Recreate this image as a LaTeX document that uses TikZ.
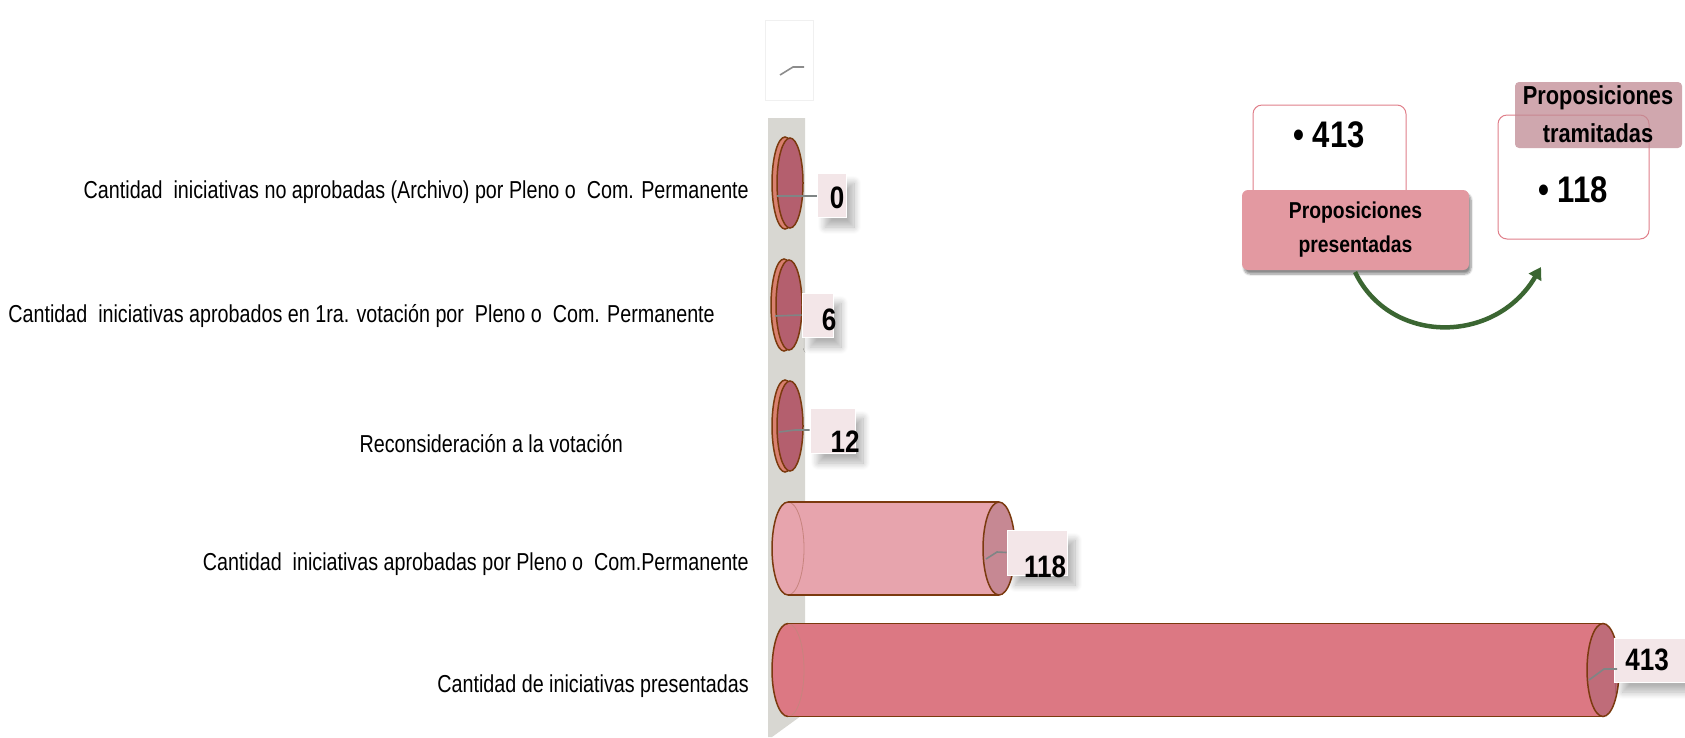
\documentclass[tikz,border=0pt]{standalone}
\usepackage{fontspec}
\setmainfont{Liberation Sans}
\newfontfamily\narrowfont[FakeStretch=0.805]{Liberation Sans}
\newfontfamily\valfont[FakeStretch=0.84]{Liberation Sans}
\usetikzlibrary{shadows.blur,arrows.meta,calc}
\definecolor{wallgray}{HTML}{D8D7D2}
\definecolor{edgebrown}{HTML}{7B3A0F}
\definecolor{bodyA}{HTML}{E7A4AD}
\definecolor{capA}{HTML}{C68893}
\definecolor{bodyB}{HTML}{DC7883}
\definecolor{capB}{HTML}{BF6C79}
\definecolor{discfill}{HTML}{B45F6E}
\definecolor{discback}{HTML}{D9806F}
\definecolor{lblfill}{HTML}{F3E6E8}
\definecolor{pinkline}{HTML}{E07F8A}
\definecolor{pinklabel}{HTML}{E399A1}
\definecolor{tramfill}{HTML}{C08A93}
\definecolor{arrowgreen}{HTML}{3B6632}
\definecolor{leader}{HTML}{7F8585}
\newcommand{\cylbar}[5]{%
  \fill[#4] (#1,#3) ellipse [x radius=16pt, y radius=46.5pt];
  \fill[#4] (#1,#3-46.5) rectangle (#2,#3+46.5);
  \fill[#5] (#2,#3) ellipse [x radius=16pt, y radius=46.5pt];
  \draw[faintedge] (#1,#3-46.5) arc [start angle=90, end angle=-90, x radius=16pt, y radius=46.5pt];
  \draw[edgeline] (#1,#3-46.5) -- (#2,#3-46.5);
  \draw[edgeline] (#1,#3+46.5) -- (#2,#3+46.5);
  \draw[edgeline] (#1,#3-46.5) arc [start angle=90, end angle=270, x radius=16pt, y radius=46.5pt];
  \draw[edgeline] (#2,#3) ellipse [x radius=16pt, y radius=46.5pt];
}
\newcommand{\discbar}[2]{%
  \draw[edgeline, fill=discback] (#1-3,#2) ellipse [x radius=13pt, y radius=46pt];
  \draw[edgeline, fill=discfill] (#1+2,#2) ellipse [x radius=13pt, y radius=45pt];
}
\tikzset{
  edgeline/.style={draw=edgebrown, line width=1.5pt},
  faintedge/.style={draw=edgebrown!30!bodyA, line width=0.8pt},
  catlabel/.style={anchor=east, inner sep=0pt, font=\narrowfont\fontsize{24.5}{28}\selectfont},
  vallabel/.style={inner sep=0pt, font=\valfont\bfseries\fontsize{31}{36}\selectfont},
  valbox/.style={fill=lblfill, draw=white, line width=1pt, blur shadow={shadow xshift=8pt, shadow yshift=-10pt, shadow blur radius=7pt, shadow blur steps=12, shadow opacity=30}},
  leaderline/.style={draw=leader, line width=1.6pt},
  bigval/.style={inner sep=0pt, font=\valfont\bfseries\fontsize{37}{42}\selectfont},
  headtext/.style={align=center, inner sep=0pt, font=\valfont\bfseries\fontsize{23}{34}\selectfont},
  outlinebox/.style={draw=pinkline, line width=1pt, rounded corners=9pt, fill=white},
}
\begin{document}
\begin{tikzpicture}[x=1pt,y=-1pt]
\useasboundingbox (0,0) rectangle (1685,737);
% faint top element
\draw[gray!12, line width=0.8pt] (765,20) rectangle (813,100);
\draw[gray!90, line width=1.6pt] (780,75) -- (793,67) -- (804,67);
% wall
\fill[wallgray] (768,118) -- (805,118) -- (805,713) -- (772,737) -- (768,737) -- cycle;
% discs
\discbar{788}{183}
\discbar{787}{305}
\discbar{788}{426}
% cylinders
\cylbar{788}{999}{548.5}{bodyA}{capA}
\cylbar{788}{1603}{670}{bodyB}{capB}
% value boxes
\node[valbox, minimum width=29pt, minimum height=44pt, inner sep=0pt] (b0) at (831.5,195) {};
\node[valbox, minimum width=31pt, minimum height=44pt, inner sep=0pt] (b6) at (817.5,315) {};
\node[valbox, minimum width=45pt, minimum height=45pt, inner sep=0pt] (b12) at (832.5,430.5) {};
\node[valbox, minimum width=60pt, minimum height=45pt, inner sep=0pt] (b118) at (1037,552.5) {};
\node[valbox, minimum width=75pt, minimum height=44pt, inner sep=0pt] (b413) at (1652,660) {};
% leaders
\coordinate (d0) at (777,196);
\coordinate (d6) at (775,316);
\coordinate (d12) at (779,432);
\coordinate (d118) at (986,559);
\coordinate (d413) at (1589,680);
\draw[leaderline] (d0) -- (b0.west |- d0);
\draw[leaderline] (d6) -- (b6.west);
\draw[leaderline] (d12) -- (795,430) -- (b12.west |- 0,430);
\draw[leaderline] (d118) -- (997,552) -- (b118.west);
\draw[leaderline] (d413) -- (1604,669) -- (1617,669);
% values
\node[vallabel] (v0) at (837,198) {0};
\node[vallabel] (v6) at (829,320) {6};
\node[vallabel] (v12) at (845,442) {12};
\node[vallabel] (v118) at (1045,567) {118};
\node[vallabel] (v413) at (1647,660) {413};
% category labels
\node[catlabel] (c1) at (749,192) {Cantidad\ \ iniciativas no aprobadas (Archivo) por Pleno o\ \ Com. Permanente};
\node[catlabel] (c2) at (715,316) {Cantidad\ \ iniciativas aprobados en 1ra. votación por\ \ Pleno o\ \ Com. Permanente};
\node[catlabel] (c3) at (623,444) {Reconsideración a la votación};
\node[catlabel] (c4) at (749,564) {Cantidad\ \ iniciativas aprobadas por Pleno o\ \ Com.Permanente};
\node[catlabel] (c5) at (749,686) {Cantidad de iniciativas presentadas};
% right diagram
\draw[outlinebox] (1253,105) rectangle (1406,200);
\node[bigval] (n413) at (1329,135) {\textbullet\ 413};
\node[fill=pinklabel, rounded corners=6pt, minimum width=227pt, minimum height=80pt, inner sep=0pt,
      blur shadow={shadow xshift=2pt, shadow yshift=-4pt, shadow blur steps=8, shadow opacity=45}] (pres) at (1355.5,230) {};
\node[headtext] (prestext) at (pres.center) {Proposiciones\\presentadas};
\draw[outlinebox] (1498,115) rectangle (1649,239);
\node[bigval] (n118) at (1573,190) {\textbullet\ 118};
\node[fill=tramfill, fill opacity=0.75, rounded corners=4pt, minimum width=167pt, minimum height=66pt, inner sep=0pt] (tram) at (1598.5,115) {};
\node[headtext, font=\valfont\bfseries\fontsize{26}{38}\selectfont] (tramtext) at (1598,114) {Proposiciones\\tramitadas};
\coordinate (arrend) at (1541,267);
\draw[arrowgreen, line width=4.5pt, -{Triangle[length=12pt, width=14pt]}] (1355,272) .. controls (1390,345) and (1495,345) .. (arrend);
\end{tikzpicture}
\end{document}
